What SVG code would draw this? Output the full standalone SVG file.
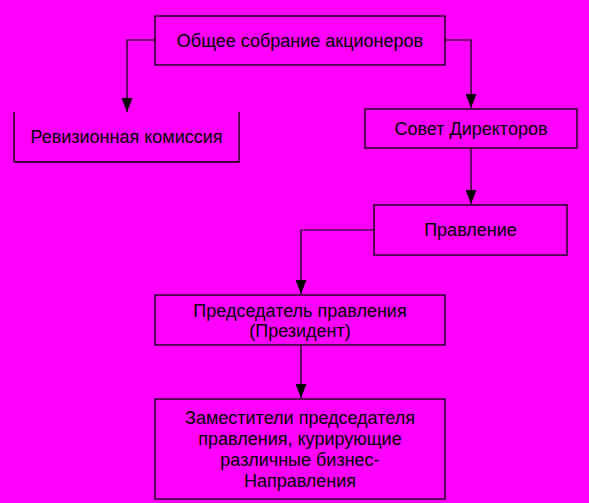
<svg xmlns="http://www.w3.org/2000/svg" width="589" height="503" viewBox="0 0 589 503">
<defs>
<style>
.box{fill:none;stroke:#000;stroke-width:1.3}
.t{font-family:"Liberation Sans",Arial,sans-serif;font-size:18px;fill:#000;text-anchor:middle}
.c{fill:none;stroke:#000;stroke-width:1.2}
</style>
<marker id="arr" markerUnits="userSpaceOnUse" markerWidth="15" markerHeight="11" refX="14" refY="5.5" orient="auto">
<path d="M0,0 L14,5.5 L0,11 z" fill="#000"/>
</marker>
</defs>
<rect width="589" height="503" fill="#FF00FF"/>
<g id="connectors">
<path class="c" d="M155,40 H127 V112" marker-end="url(#arr)"/>
<path class="c" d="M445,40 H471 V108" marker-end="url(#arr)"/>
<path class="c" d="M471,148 V204" marker-end="url(#arr)"/>
<path class="c" d="M374,230 H301 V294" marker-end="url(#arr)"/>
<path class="c" d="M301,345 V398" marker-end="url(#arr)"/>
</g>
<g id="n-meeting">
<rect class="box" x="155" y="16" width="290" height="49"/>
<text class="t" x="300" y="47">Общее собрание акционеров</text>
</g>
<g id="n-audit">
<path class="box" d="M14,112 V162 H239 V112"/>
<text class="t" x="126.5" y="142.5">Ревизионная комиссия</text>
</g>
<g id="n-board">
<rect class="box" x="365" y="109" width="212" height="39"/>
<text class="t" x="471" y="135">Совет Директоров</text>
</g>
<g id="n-management">
<rect class="box" x="374" y="205" width="193" height="50"/>
<text class="t" x="470.5" y="236">Правление</text>
</g>
<g id="n-chairman">
<rect class="box" x="155" y="295" width="290" height="50"/>
<text class="t" x="300" y="316.5">Председатель правления</text>
<text class="t" x="300" y="337">(Президент)</text>
</g>
<g id="n-deputies">
<rect class="box" x="155" y="399" width="290" height="100"/>
<text class="t" x="300" y="424">Заместители председателя</text>
<text class="t" x="300" y="445">правления, курирующие</text>
<text class="t" x="300" y="466">различные бизнес-</text>
<text class="t" x="300" y="486.5">Направления</text>
</g>
</svg>
